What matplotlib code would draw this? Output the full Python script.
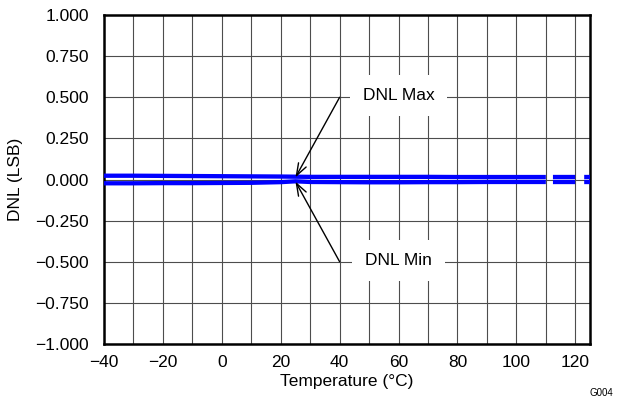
#! /usr/bin/python3
# DNL vs temperature, max and min curves with callouts
import matplotlib
matplotlib.use('Agg')
import matplotlib.pyplot as plt
from matplotlib.ticker import MultipleLocator, FuncFormatter

plt.rcParams['font.family'] = ['Liberation Sans', 'DejaVu Sans']
plt.rcParams['font.size'] = 12.5
plt.rcParams['lines.scale_dashes'] = False

temp = [-40, -30, -20, -10, 0, 10, 20, 25, 30, 40, 50, 60, 70, 80, 90, 100, 110]
dnl_max = [0.023, 0.023, 0.022, 0.021, 0.020, 0.019, 0.018, 0.017, 0.016, 0.016,
           0.016, 0.016, 0.016, 0.015, 0.015, 0.015, 0.015]
dnl_min = [-0.023, -0.023, -0.022, -0.022, -0.021, -0.020, -0.016, -0.011, -0.015, -0.016,
           -0.017, -0.017, -0.016, -0.016, -0.015, -0.015, -0.015]
# extrapolated part drawn dashed
temp_ext = [110, 125]
max_ext = [0.015, 0.015]
min_ext = [-0.015, -0.015]

blue = '#0000ff'

fig = plt.figure(figsize=(6.21, 4.0), dpi=100)
ax = fig.add_axes([0.1675, 0.14, 0.7826, 0.8225])

for y, y_ext in ((dnl_max, max_ext), (dnl_min, min_ext)):
  ax.plot(temp, y, color=blue, lw=3.1, solid_capstyle='butt', zorder=3)
  ax.plot(temp_ext, y_ext, color=blue, lw=3.1, ls=(17.5, (16, 6.5)), zorder=3,
          dash_capstyle='butt')

ax.set_xlim(-40, 125)
ax.set_ylim(-1.0, 1.0)
ax.xaxis.set_major_locator(MultipleLocator(20))
ax.xaxis.set_minor_locator(MultipleLocator(10))
ax.yaxis.set_major_locator(MultipleLocator(0.25))
ax.yaxis.set_major_formatter(FuncFormatter(lambda v, p: ('%.3f' % v).replace('-', '\u2212')))
ax.xaxis.set_major_formatter(FuncFormatter(lambda v, p: ('%d' % v).replace('-', '\u2212')))
ax.tick_params(which='both', length=0)
ax.tick_params(axis='x', pad=8)
ax.tick_params(axis='y', pad=11)
ax.grid(which='both', color='0.3', lw=0.8, zorder=1)
ax.set_axisbelow(True)
for s in ax.spines.values():
  s.set_linewidth(1.8)

ax.set_xlabel('Temperature (\u00b0C)', labelpad=3)
ax.set_ylabel('DNL (LSB)', labelpad=9)

box = dict(boxstyle='square,pad=0.75', fc='white', ec='none')
ax.text(60, 0.51, 'DNL Max', ha='center', va='center', bbox=box, zorder=4)
ax.text(60, -0.49, 'DNL Min', ha='center', va='center', bbox=box, zorder=4)
arr = dict(arrowstyle='->,head_length=0.7,head_width=0.25', color='black', lw=1.0,
           shrinkA=0, shrinkB=0)
ax.annotate('', xy=(25, 0.013), xytext=(40, 0.5), arrowprops=arr, zorder=5)
ax.annotate('', xy=(25, -0.013), xytext=(40, -0.5), arrowprops=arr, zorder=5)

fig.text(0.987, 0.018, 'G004', fontsize=7, ha='right', va='center')

fig.savefig('out.png', dpi=100)
